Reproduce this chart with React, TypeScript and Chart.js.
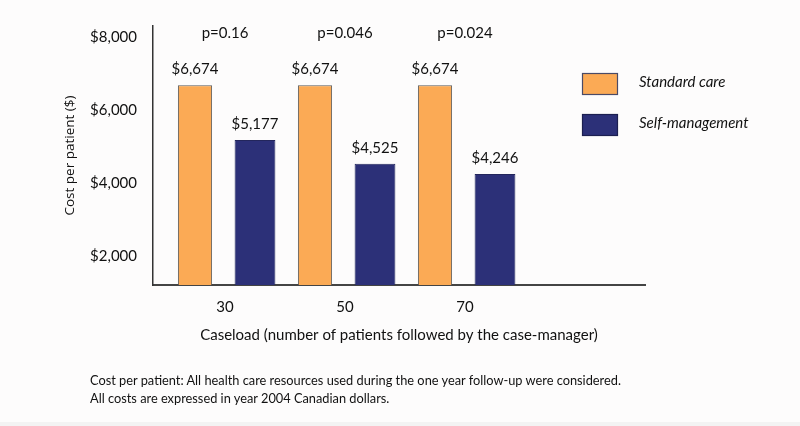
import React, { useEffect, useRef } from "react";
import { Chart, registerables } from "chart.js";

Chart.register(...registerables);

const caseloads = [30, 50, 70];
const standardCare = [6674, 6674, 6674];
const selfManagement = [5177, 4525, 4246];
const pValues = ["p=0.16", "p=0.046", "p=0.024"];
const yTicks = [2000, 4000, 6000, 8000];
const seriesLabels = ["Standard care", "Self-management"];
const seriesColors = ["#FBAA55", "#2C3078"];
const seriesBorders = ["#5a5a5a", "#23265c"];
const xTitle = "Caseload (number of patients followed by the case-manager)";
const yTitle = "Cost per patient ($)";
const footnotes = [
  "Cost per patient: All health care resources used during the one year follow-up were considered.",
  "All costs are expressed in year 2004 Canadian dollars.",
];

const FONT = "Lato";
const fmt = (v: number) => "$" + Number(v).toLocaleString("en-US");

const valueLabelsPlugin = {
  id: "valueLabels",
  afterDatasetsDraw(chart: any) {
    const { ctx } = chart;
    ctx.save();
    ctx.font = `15px ${FONT}`;
    ctx.fillStyle = "#111";
    ctx.textAlign = "center";
    ctx.textBaseline = "middle";
    chart.data.datasets.forEach((ds: any, i: number) => {
      const meta = chart.getDatasetMeta(i);
      meta.data.forEach((bar: any, j: number) => {
        ctx.fillText(fmt(ds.data[j].y), bar.x, bar.y - 16);
      });
    });
    ctx.restore();
  },
};

const pValuePlugin = {
  id: "pValues",
  afterDatasetsDraw(chart: any) {
    const { ctx, chartArea } = chart;
    const xs = chart.scales.x;
    ctx.save();
    ctx.font = `15px ${FONT}`;
    ctx.fillStyle = "#111";
    ctx.textAlign = "center";
    ctx.textBaseline = "middle";
    pValues.forEach((p, i) => {
      ctx.fillText(p, xs.getPixelForValue(caseloads[i]), chartArea.top + 7);
    });
    ctx.restore();
  },
};

const sideLegendPlugin = {
  id: "sideLegend",
  afterDraw(chart: any) {
    const { ctx, chartArea } = chart;
    const boxX = chartArea.right - 63;
    const textX = chartArea.right - 6;
    ctx.save();
    chart.data.datasets.forEach((ds: any, i: number) => {
      const top = chartArea.top + 47 + i * 41;
      ctx.fillStyle = ds.backgroundColor;
      ctx.fillRect(boxX, top, 35, 21);
      ctx.strokeStyle = i === 0 ? "#4a4a66" : "#1c1f50";
      ctx.lineWidth = 1.2;
      ctx.strokeRect(boxX + 0.5, top + 0.5, 35, 21);
      ctx.font = `italic 15px ${FONT}`;
      ctx.fillStyle = "#111";
      ctx.textAlign = "left";
      ctx.textBaseline = "middle";
      ctx.fillText(ds.label, textX, top + 9);
    });
    ctx.restore();
  },
};

export default function App() {
  const canvasRef = useRef<HTMLCanvasElement | null>(null);

  useEffect(() => {
    const canvas = canvasRef.current;
    if (!canvas) return;
    const chart = new Chart(canvas, {
      type: "bar",
      data: {
        datasets: [
          {
            label: seriesLabels[0],
            data: caseloads.map((c, i) => ({ x: c, y: standardCare[i] })),
            backgroundColor: seriesColors[0],
            borderColor: seriesBorders[0],
            borderWidth: 1,
            categoryPercentage: 1.0,
            barPercentage: 0.57,
          },
          {
            label: seriesLabels[1],
            data: caseloads.map((c, i) => ({ x: c, y: selfManagement[i] })),
            backgroundColor: seriesColors[1],
            borderColor: seriesBorders[1],
            borderWidth: 1,
            categoryPercentage: 1.0,
            barPercentage: 0.68,
          },
        ],
      },
      options: {
        responsive: false,
        animation: false,
        devicePixelRatio: 1,
        layout: { padding: { left: 0, right: 155, top: 26, bottom: 82 } },
        plugins: {
          legend: { display: false },
          tooltip: { enabled: false },
          title: { display: false },
        },
        scales: {
          x: {
            type: "linear",
            min: 18,
            max: 100,
            offset: false,
            afterBuildTicks: (s: any) => {
              s.ticks = caseloads.map((v) => ({ value: v }));
            },
            afterFit: (s: any) => {
              s.height = 59;
            },
            grid: { display: false, drawTicks: false },
            border: { display: true, color: "#444", width: 2 },
            ticks: {
              padding: 13,
              color: "#111",
              font: { family: FONT, size: 15 },
              maxRotation: 0,
              autoSkip: false,
              callback: (v: any) => String(v),
            },
            title: {
              display: true,
              text: xTitle,
              color: "#111",
              font: { family: FONT, size: 15 },
              padding: { top: 0, bottom: 0 },
            },
          },
          y: {
            min: 1200,
            max: 8300,
            afterBuildTicks: (s: any) => {
              s.ticks = yTicks.map((v) => ({ value: v }));
            },
            afterFit: (s: any) => {
              s.width = 153;
            },
            grid: { display: false, drawTicks: false },
            border: { display: true, color: "#333", width: 1.5 },
            ticks: {
              padding: 16,
              color: "#111",
              font: { family: FONT, size: 15 },
              callback: (v: any) => fmt(v),
            },
            title: {
              display: true,
              text: yTitle,
              color: "#111",
              font: { family: "Open Sans", size: 13.5 },
              padding: { top: 62, bottom: 0 },
            },
          },
        },
      },
      plugins: [valueLabelsPlugin, pValuePlugin, sideLegendPlugin],
    });
    return () => chart.destroy();
  }, []);

  return (
    <div
      style={{
        position: "fixed",
        left: 0,
        top: 0,
        width: 800,
        height: 426,
        background: "#fdfcfc",
        overflow: "hidden",
      }}
    >
      <canvas ref={canvasRef} width={800} height={426} style={{ display: "block" }} />
      <div
        style={{
          position: "absolute",
          left: 90,
          top: 371,
          fontFamily: FONT,
          fontSize: 12.8,
          lineHeight: "18px",
          color: "#111",
          whiteSpace: "nowrap",
        }}
      >
        {footnotes.map((t, i) => (
          <div key={i}>{t}</div>
        ))}
      </div>
      <div
        style={{
          position: "absolute",
          left: 0,
          top: 422,
          width: 800,
          height: 4,
          background: "#f3f3f3",
        }}
      />
    </div>
  );
}
